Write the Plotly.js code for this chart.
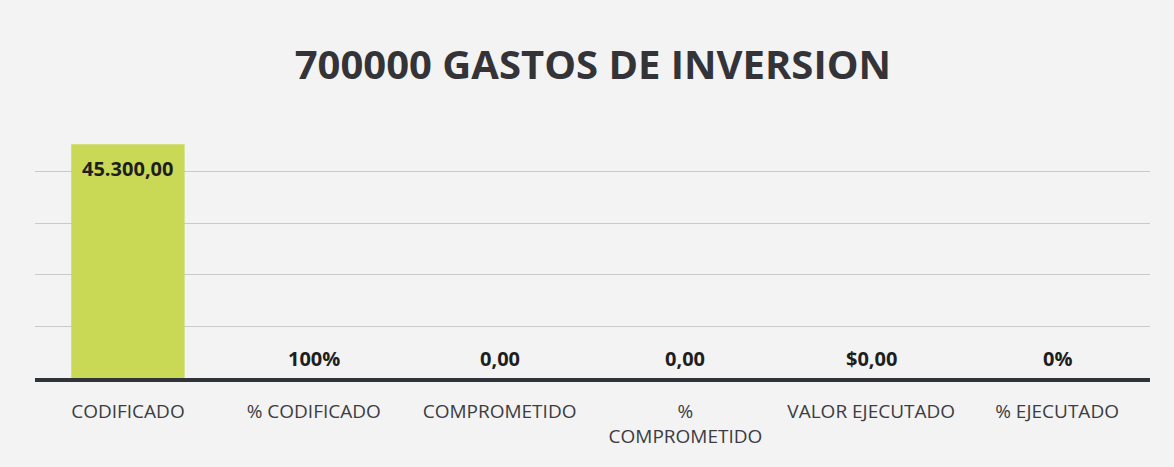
<!DOCTYPE html>
<html>
<head>
<meta charset="utf-8">
<script src="https://cdn.plot.ly/plotly-3.0.1.min.js"></script>
<style>html,body{margin:0;padding:0;background:#f3f3f3;}#chart{width:1174px;height:467px;}</style>
</head>
<body>
<div id="chart"></div>
<script>
const categories = ['CODIFICADO', '% CODIFICADO', 'COMPROMETIDO', '%<br>COMPROMETIDO', 'VALOR EJECUTADO', '% EJECUTADO'];
const values = [45300, 1, 0, 0, 0, 0];
const valueLabels = ['45.300,00', '100%', '0,00', '0,00', '$0,00', '0%'];
const chartTitle = '700000 GASTOS DE INVERSION';

const trace = {
  type: 'bar',
  x: categories,
  y: values,
  marker: {color: '#c9d955', line: {width: 0}},
  width: 0.61,
  hoverinfo: 'none'
};

// value labels: inside the top of tall bars, just above the axis for near-zero bars
const annotations = categories.map((c, i) => {
  const tall = values[i] > 5000;
  return {
    x: c, y: tall ? values[i] : 0,
    xref: 'x', yref: 'y',
    text: valueLabels[i],
    showarrow: false,
    yanchor: tall ? 'top' : 'bottom',
    yshift: tall ? -9 : 4,
    font: {family: 'Open Sans, sans-serif', size: 20, color: '#1e1e1e', weight: 'bold'}
  };
});

const layout = {
  width: 1174,
  height: 467,
  paper_bgcolor: '#f3f3f3',
  plot_bgcolor: 'rgba(0,0,0,0)',
  margin: {l: 35, r: 24, t: 120, b: 89},
  title: {
    text: chartTitle,
    font: {family: 'Open Sans, sans-serif', size: 40, color: '#333338', weight: 'bold'},
    x: 0.505, xanchor: 'center', y: 0.86, yanchor: 'middle'
  },
  showlegend: false,
  annotations: annotations,
  xaxis: {
    type: 'category',
    showline: true, linewidth: 3.5, linecolor: '#30333a',
    ticks: '', showgrid: false,
    ticklabelstandoff: 14,
    tickfont: {family: 'Open Sans, sans-serif', size: 19, color: '#3c3c42'},
    fixedrange: true
  },
  yaxis: {
    range: [0, 50000],
    dtick: 10000,
    showticklabels: false,
    showgrid: true, gridcolor: '#c9c9c9', gridwidth: 1,
    zeroline: false, showline: false, ticks: '',
    fixedrange: true
  }
};

Plotly.newPlot('chart', [trace], layout, {displayModeBar: false, staticPlot: true});
</script>
</body>
</html>
